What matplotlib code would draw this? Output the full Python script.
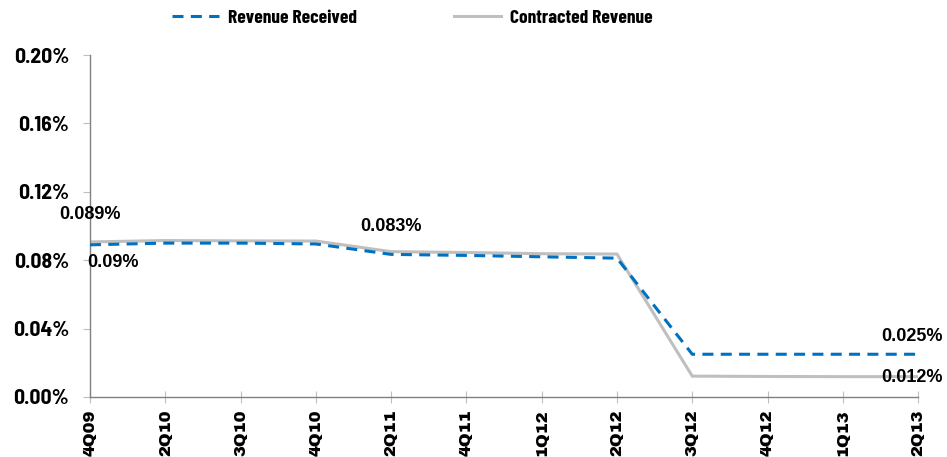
import matplotlib
matplotlib.use('Agg')
import matplotlib.pyplot as plt
import numpy as np

# data
quarters = ['4Q09', '2Q10', '3Q10', '4Q10', '2Q11', '4Q11',
            '1Q12', '2Q12', '3Q12', '4Q12', '1Q13', '2Q13']
revenue_received = [0.089, 0.090, 0.090, 0.0895, 0.0834, 0.0828,
                    0.0820, 0.0812, 0.025, 0.025, 0.025, 0.025]
contracted_revenue = [0.0907, 0.0915, 0.0913, 0.0912, 0.0850, 0.0845,
                      0.0838, 0.0836, 0.0122, 0.0120, 0.0119, 0.0119]
y_ticks = [0.00, 0.04, 0.08, 0.12, 0.16, 0.20]

# fonts: narrow bold for axis/legend, wide black for the quarters
narrow = ['Barlow Semi Condensed', 'Liberation Sans', 'DejaVu Sans']
legend_font = ['Barlow Condensed', 'Liberation Sans', 'DejaVu Sans']
wide = ['Archivo Black', 'DejaVu Sans']

fig = plt.figure(figsize=(9.47, 4.57), dpi=100)
ax = fig.add_axes([0.095, 0.1313, 0.8745, 0.7483])

x = np.arange(len(quarters))
l1, = ax.plot(x, revenue_received, color='#0070C0', lw=2.2, ls=(0, (3.6, 2.4)),
              label='Revenue Received', zorder=3)
l2, = ax.plot(x, contracted_revenue, color='#BFBFBF', lw=2.2,
              label='Contracted Revenue', zorder=2)

ax.set_xlim(0, len(quarters) - 1)
ax.set_ylim(0, 0.20)
ax.set_yticks(y_ticks)
ax.set_yticklabels([f'{t:.2f}%' for t in y_ticks], fontfamily=narrow,
                   fontweight='bold', fontsize=15.5)
ax.set_xticks(x)
ax.set_xticklabels(quarters, rotation=90, fontfamily=wide, fontsize=11.8)

for s in ['top', 'right']:
    ax.spines[s].set_visible(False)
for s in ['left', 'bottom']:
    ax.spines[s].set_color('#808080')
    ax.spines[s].set_linewidth(1.0)
ax.tick_params(axis='y', length=5, color='#BFBFBF', pad=10)
ax.tick_params(axis='x', direction='inout', length=8, color='#BFBFBF', pad=5)

# data labels
lbl = dict(fontfamily='Liberation Sans', fontweight='bold', fontsize=13,
           color='black', va='center')
ax.text(0, 0.1065, '0.089%', ha='center', **lbl)
ax.text(0.3, 0.0787, '0.09%', ha='center', **lbl)
ax.text(4, 0.0995, '0.083%', ha='center', **lbl)
ax.text(10.92, 0.0355, '0.025%', ha='center', **lbl)
ax.text(10.92, 0.0112, '0.012%', ha='center', **lbl)

leg_kw = dict(frameon=False, borderaxespad=0, borderpad=0, handlelength=2.4,
              handletextpad=0.5,
              prop={'family': legend_font, 'weight': 'bold', 'size': 14})
fig.legend(handles=[l1], loc='center left',
           bbox_to_anchor=(172 / 947, 1 - 18 / 457), **leg_kw)
fig.legend(handles=[l2], loc='center left',
           bbox_to_anchor=(454 / 947, 1 - 18 / 457), **leg_kw)

fig.savefig('out.png', dpi=100)
